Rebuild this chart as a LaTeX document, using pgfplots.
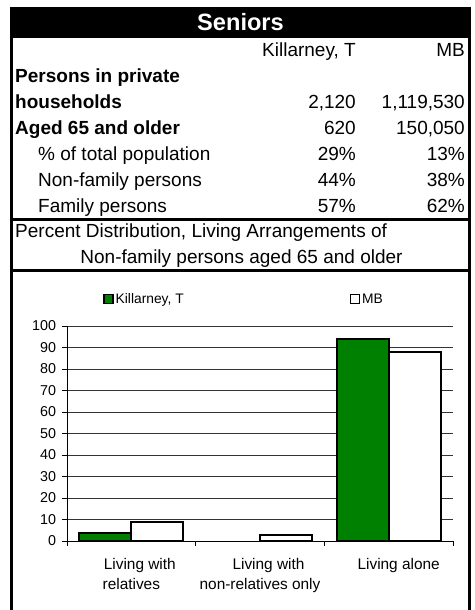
\documentclass[border=0pt]{standalone}
\usepackage{pgfplots}
\pgfplotsset{compat=1.18}
\usepackage{fontspec}
\setmainfont{Liberation Sans}
\definecolor{kgreen}{HTML}{008000}
\newcommand\fs[1]{\fontsize{#1bp}{#1bp}\selectfont}

\begin{document}
\begin{tikzpicture}[x=1bp,y=1bp,font=\fs{19}]
\useasboundingbox (0,0) rectangle (475,-610);

% frame and rules
\fill (9.5,-7) rectangle (471,-38);
\fill (9.5,-7) rectangle (12.5,-610);
\fill (468,-7) rectangle (471,-610);
\fill (9.5,-217.5) rectangle (471,-220.5);
\fill (9.5,-268.5) rectangle (471,-271.5);

% table text
\begin{scope}[every node/.style={inner sep=0pt}]
\node[anchor=base,text=white,font=\bfseries\fs{23.6}] at (240.5,-31) {Seniors};
\node[anchor=base east] at (356,-57) {Killarney, T};
\node[anchor=base east] at (465,-57) {MB};
\node[anchor=base west,font=\bfseries\fs{19}] at (15,-83) {Persons in private};
\node[anchor=base west,font=\bfseries\fs{19}] at (15,-109) {households};
\node[anchor=base east] at (356,-109) {2,120};
\node[anchor=base east] at (465,-109) {1,119,530};
\node[anchor=base west,font=\bfseries\fs{19}] at (15,-135) {Aged 65 and older};
\node[anchor=base east] at (356,-135) {620};
\node[anchor=base east] at (465,-135) {150,050};
\node[anchor=base west] at (38,-160.5) {\% of total population};
\node[anchor=base east] at (356,-160.5) {29\%};
\node[anchor=base east] at (465,-160.5) {13\%};
\node[anchor=base west] at (38,-186) {Non-family persons};
\node[anchor=base east] at (356,-186) {44\%};
\node[anchor=base east] at (465,-186) {38\%};
\node[anchor=base west] at (38,-212) {Family persons};
\node[anchor=base east] at (356,-212) {57\%};
\node[anchor=base east] at (465,-212) {62\%};
\node[anchor=base west] at (15,-237.5) {Percent Distribution, Living Arrangements of};
\node[anchor=base] at (241.5,-263.5) {Non-family persons aged 65 and older};
\end{scope}

\begin{axis}[
  at={(67bp,-541bp)}, anchor=south west,
  scale only axis, width=386bp, height=215bp,
  xmin=-0.5, xmax=2.5, ymin=0, ymax=100,
  axis x line*=bottom, axis y line*=left,
  axis line style={line width=1bp, black, -},
  ybar, bar width=0.405,
  xtick={-0.5,0.5,1.5,2.5},
  x tick label as interval,
  xticklabels={{\hspace*{17bp}Living with\\relatives},
               {\hspace*{17bp}Living with\\non-relatives only},
               {\hspace*{20bp}Living alone}},
  xticklabel style={font=\fontsize{15.4bp}{20bp}\selectfont, align=center, yshift=-9bp},
  ytick={0,10,...,100},
  yticklabel style={font=\fs{14.3}, xshift=-2.5bp},
  /pgf/number format/assume math mode=true,
  tick align=outside, major tick length=5bp,
  tick style={black, line width=1bp},
  ymajorgrids,
  major grid style={black!80, line width=1bp},
  legend columns=2,
  legend style={at={(0.0933,1.125)}, anchor=west, draw=none, fill=none,
    inner sep=0pt, font=\fs{13.8},
    /tikz/every even column/.append style={column sep=164bp}},
  legend image code/.code={\draw[#1,draw=black,line width=1.5bp] (0bp,-4.5bp) rectangle (9bp,4.5bp);},
]
\addplot[fill=kgreen, draw=black, line width=2bp, bar shift=-0.2025] coordinates {(0,3.7) (2,94.1)};
\addplot[fill=white, draw=black, line width=2bp, bar shift=0.2025] coordinates {(0,9.0) (1,2.6) (2,87.9)};
\legend{{Killarney, T}, MB}
\end{axis}
\end{tikzpicture}
\end{document}
